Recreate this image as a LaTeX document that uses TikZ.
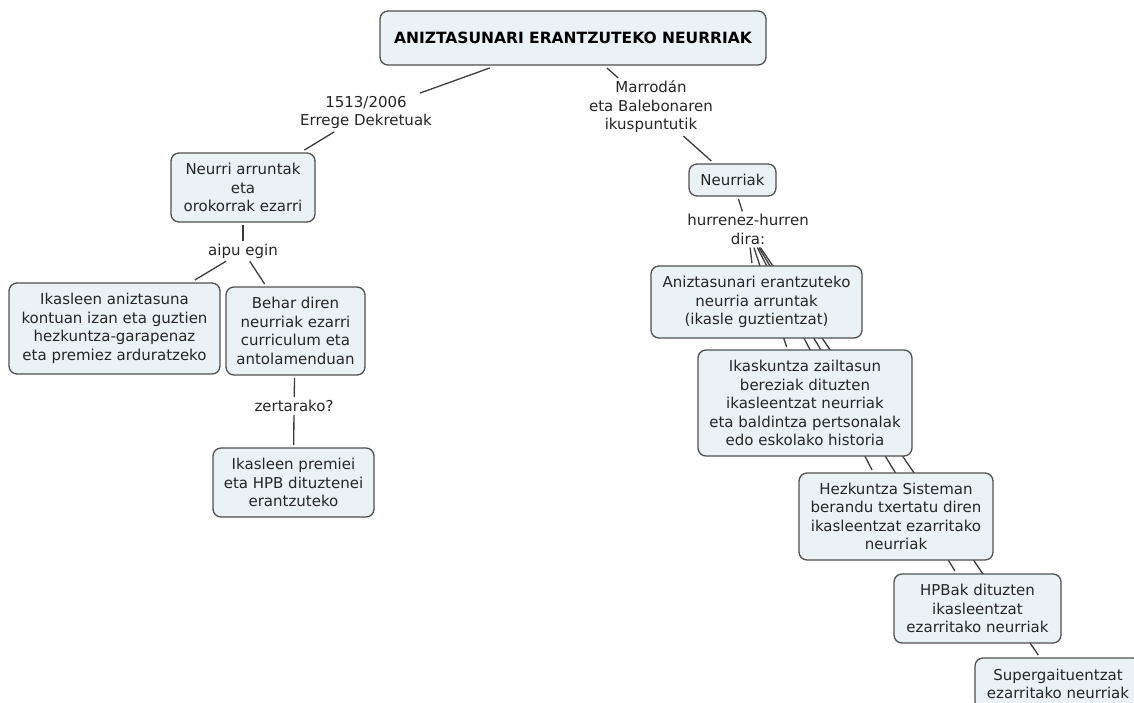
\documentclass[tikz,border=0pt]{standalone}
\usepackage{fontspec}
\setmainfont{DejaVu Sans}
\definecolor{boxfill}{RGB}{234,242,246}
\definecolor{boxline}{RGB}{80,80,80}
\definecolor{linkgray}{RGB}{60,60,60}
\usetikzlibrary{backgrounds}

\begin{document}
\begin{tikzpicture}[
        x=1pt, y=-1pt,
        font=\fontsize{15}{18.5}\selectfont,
        box/.style={draw=boxline, fill=boxfill, rounded corners=8pt, line width=1.3pt,
                    align=center, inner sep=4pt, outer sep=3pt, text=black!85},
        link/.style={align=center, inner sep=2pt, outer sep=1pt, text=black!85},
        conn/.style={draw=linkgray, line width=1.3pt}
      ]
        \useasboundingbox (0,0) rectangle (1134,702);
        \clip (0,0) rectangle (1134,702);
        % goiko kontzeptua
        \node[box, minimum width=386pt, minimum height=54pt, text=black,
          font=\fontsize{15.5}{18.5}\selectfont\bfseries] (titulua) at (573,38)
          {ANIZTASUNARI ERANTZUTEKO NEURRIAK};
        % ezkerreko adarra
        \node[link] (dekretu) at (366,112.5) {1513/2006\\Errege Dekretuak};
        \node[box, minimum width=144pt, minimum height=69pt] (orokorrak) at (243,187.5)
          {Neurri arruntak\\eta\\orokorrak ezarri};
        \node[link] (aipu) at (243,251) {aipu egin};
        \node[box, minimum width=211pt, minimum height=91pt] (aniztasuna) at (114.5,328.5)
          {Ikasleen aniztasuna\\kontuan izan eta guztien\\hezkuntza-garapenaz\\eta premiez arduratzeko};
        \node[box, minimum width=139pt, minimum height=88pt] (behar) at (295.5,331)
          {Behar diren\\neurriak ezarri\\curriculum eta\\antolamenduan};
        \node[link] (zertarako) at (294,406) {zertarako?};
        \node[box, minimum width=161pt, minimum height=69pt] (premiei) at (293.5,482.5)
          {Ikasleen premiei\\eta HPB dituztenei\\erantzuteko};
        % eskuineko adarra
        \node[link] (marrodan) at (651,107) {Marrodán\\eta Balebonaren\\ikuspuntutik};
        \node[box, minimum width=87pt, minimum height=32pt] (neurriak) at (732.5,180) {Neurriak};
        \node[link] (hurrenez) at (748,229.5) {hurrenez-hurren\\dira:};
        \node[box, minimum width=211pt, minimum height=72pt] (arrunta) at (756.5,302)
          {Aniztasunari erantzuteko\\neurria arruntak\\(ikasle guztientzat)};
        \node[box, minimum width=214pt, minimum height=106pt] (zailtasun) at (805,403)
          {Ikaskuntza zailtasun\\bereziak dituzten\\ikasleentzat neurriak\\eta baldintza pertsonalak\\edo eskolako historia};
        \node[box, minimum width=194pt, minimum height=87pt] (berandu) at (896,516.5)
          {Hezkuntza Sisteman\\berandu txertatu diren\\ikasleentzat ezarritako\\neurriak};
        \node[box, minimum width=167pt, minimum height=69pt] (hpb) at (977.5,608.5)
          {HPBak dituzten\\ikasleentzat\\ezarritako neurriak};
        \node[box, minimum width=166pt, minimum height=52pt] (super) at (1058,684)
          {Supergaituentzat\\ezarritako neurriak};
        % loturak, kutxen atzean
        \begin{scope}[on background layer]
        \draw[conn] (titulua)--(dekretu);
        \draw[conn] (dekretu)--(orokorrak);
        \draw[conn] (orokorrak)--(aipu);
        \draw[conn] (aipu)--(aniztasuna);
        \draw[conn] (aipu)--(behar);
        \draw[conn] (behar)--(zertarako);
        \draw[conn] (zertarako)--(premiei);
        \draw[conn] (titulua)--(marrodan);
        \draw[conn] (marrodan)--(neurriak);
        \draw[conn] (neurriak)--(hurrenez);
        \draw[conn] (hurrenez)--(arrunta);
        \draw[conn] (hurrenez)--(zailtasun);
        \draw[conn] (hurrenez)--(berandu);
        \draw[conn] (hurrenez)--(hpb);
        \draw[conn] (hurrenez)--(super);
        \end{scope}
      \end{tikzpicture}
\end{document}
